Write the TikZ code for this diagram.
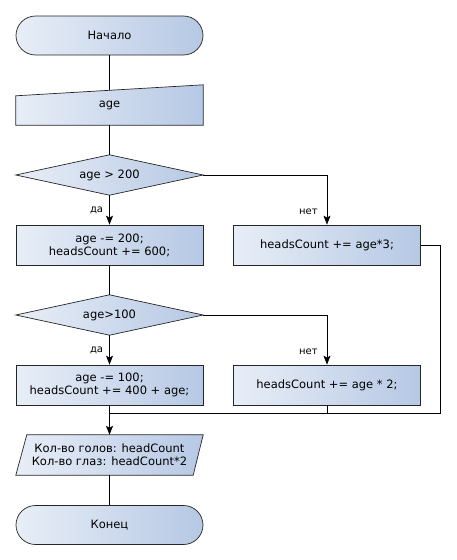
\documentclass[tikz,border=0pt]{standalone}
\usepackage{fontspec}
\setmainfont{DejaVu Sans}
\usetikzlibrary{shapes.geometric,arrows.meta,backgrounds,calc}

\definecolor{fillleft}{HTML}{E8EEF7}
\definecolor{fillright}{HTML}{B6C8E4}

\tikzset{
  shaded/.style={draw=black!85, line width=0.7pt, left color=fillleft, right color=fillright},
  block/.style={shaded, rectangle, minimum width=187pt, minimum height=40pt, align=center, inner sep=0pt},
  term/.style={block, rounded corners=19.5pt, minimum height=39pt},
  plain/.style={rectangle, minimum width=187pt, minimum height=40pt, align=center, inner sep=0pt},
  line/.style={draw, line width=0.8pt},
  arr/.style={line, -{Stealth[length=9pt,width=7pt,inset=2pt]}},
  lbl/.style={inner sep=0pt, font=\fontsize{10}{12}\selectfont}
}

\begin{document}
\begin{tikzpicture}[x=1pt, y=-1pt, font=\fontsize{11.5}{13}\selectfont]
\useasboundingbox (0,0) rectangle (456,560);

% Блоки
\node[term] (start) at (109.5,35.5) {Начало};
\node[plain] (inp) at (109.5,105) {age};
\node[plain] (c1) at (109.5,175) {age > 200};
\node[block] (a1) at (109.5,245) {age -= 200;\\headsCount += 600;};
\node[block] (b1) at (327,245) {headsCount += age*3;};
\node[plain] (c2) at (109.5,315) {age>100};
\node[block] (a2) at (109.5,385) {age -= 100;\\headsCount += 400 + age;};
\node[block] (b2) at (327,385) {headsCount += age * 2;};
\node[plain] (out) at (109.5,455) {Кол-во голов: headCount\\Кол-во глаз: headCount*2};
\node[term] (stop) at (109.5,525) {Конец};

% Ромбы, ввод и вывод (фигуры под текстом)
\begin{scope}[on background layer]
\shade[shaded] (inp.south west) -- (inp.south east) -- (inp.north east) -- ([yshift=-11pt]inp.north west) -- cycle;
\shade[shaded] (c1.west) -- (c1.north) -- (c1.east) -- (c1.south) -- cycle;
\shade[shaded] (c2.west) -- (c2.north) -- (c2.east) -- (c2.south) -- cycle;
\shade[shaded] ([xshift=11pt]out.north west) -- (out.north east) -- ([xshift=-10pt]out.south east) -- (out.south west) -- cycle;
\end{scope}

% Точки слияния
\coordinate (mr) at (440,413);
\coordinate (ml) at (109.5,413);

% Связи
\draw[line] (start) -- ([yshift=-5.5pt]inp.north);
\draw[line] (inp) -- (c1);
\draw[arr] (c1) -- node[lbl, left=6pt] {да} (a1);
\draw[arr] (c1.east) -| node[lbl, left=9pt, pos=0.87] {нет} (b1.north);
\draw[line] (a1) -- (c2);
\draw[arr] (c2) -- node[lbl, left=6pt] {да} (a2);
\draw[arr] (c2.east) -| node[lbl, left=9pt, pos=0.87] {нет} (b2.north);
\draw[line] (b1.east) -| (mr) -- (ml);
\draw[line] (b2.south) -- (b2.south |- mr);
\draw[arr] (a2) -- (out);
\draw[line] (out) -- (stop);
\end{tikzpicture}
\end{document}
